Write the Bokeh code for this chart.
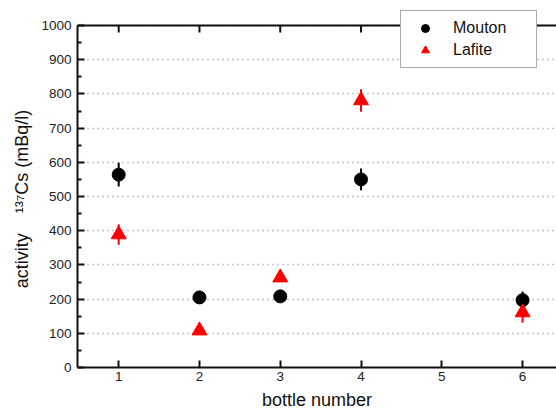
from bokeh.plotting import figure
from bokeh.models import (FixedTicker, Legend, LegendItem, Range1d, Span)
from bokeh.embed import file_html
from bokeh.resources import INLINE

bottles = [1, 2, 3, 4, 6]
mouton = [564, 205, 208, 550, 197]
mouton_err = [35, 12, 14, 32, 25]
lafite = [389, 108, 263, 781, 161]
lafite_err = [30, 10, 12, 33, 30]
x_ticks = [1, 2, 3, 4, 5, 6]
y_ticks = list(range(0, 1001, 100))
y_minor = list(range(50, 1000, 100))

FONT = "Liberation Sans"
NB = "\u00a0"
Y_TOP = 1000          # value at the top border
TICK_LEN = 20         # inward tick length on the top border, in value units

# frame extends a bit above 1000 so that the legend can overlap the top border
p = figure(width=556, height=415, output_backend="svg", toolbar_location=None,
           x_range=Range1d(0.49, 6.42), y_range=Range1d(0, 1044),
           min_border_left=77, min_border_right=0, min_border_top=10, min_border_bottom=48)
p.outline_line_color = None
p.background_fill_color = "white"
p.border_fill_color = "white"

# horizontal dotted grid
p.xgrid.visible = False
p.ygrid.ticker = FixedTicker(ticks=y_ticks)
p.ygrid.grid_line_color = "#8a8aa0"
p.ygrid.grid_line_dash = "1 4"
p.ygrid.grid_line_width = 1.3

# axes
xa = p.xaxis[0]
xa.ticker = FixedTicker(ticks=x_ticks)
ya = p.yaxis[0]
ya.ticker = FixedTicker(ticks=y_ticks, minor_ticks=y_minor)
ya.bounds = (0, Y_TOP)
for ax in (xa, ya):
    ax.axis_line_width = 2
    ax.axis_line_color = "#111111"
    ax.major_tick_in = 7
    ax.major_tick_out = 0
    ax.major_tick_line_width = 2
    ax.major_tick_line_color = "#111111"
    ax.major_label_text_font = FONT
    ax.major_label_text_font_size = "13.5px"
    ax.major_label_text_color = "#222222"
    ax.axis_label_text_font = FONT
    ax.axis_label_text_font_size = "18px"
    ax.axis_label_text_font_style = "normal"
    ax.axis_label_text_color = "#111111"
xa.minor_tick_line_color = None
ya.minor_tick_in = 4
ya.minor_tick_out = 0
ya.minor_tick_line_width = 2
ya.minor_tick_line_color = "#111111"
xa.major_label_standoff = 4
ya.major_label_standoff = 6

xa.axis_label = "bottle number"
xa.axis_label_standoff = 6
ya.axis_label = "activity" + NB * 4 + "\u00b9\u00b3\u2077Cs (mBq/l)" + NB * 4
ya.axis_label_standoff = 6

# top border with inward ticks
p.add_layout(Span(location=Y_TOP, dimension="width", line_color="#111111", line_width=2))
p.segment(x0=x_ticks, x1=x_ticks, y0=[Y_TOP] * len(x_ticks),
          y1=[Y_TOP - TICK_LEN] * len(x_ticks), line_color="#111111", line_width=2)

# error bars
p.segment(x0=bottles, x1=bottles,
          y0=[v - e for v, e in zip(mouton, mouton_err)],
          y1=[v + e for v, e in zip(mouton, mouton_err)],
          line_color="black", line_width=2)
p.segment(x0=bottles, x1=bottles,
          y0=[v - e for v, e in zip(lafite, lafite_err)],
          y1=[v + e for v, e in zip(lafite, lafite_err)],
          line_color="red", line_width=2)

r_m = p.scatter(bottles, mouton, marker="circle", size=13, fill_color="black", line_color="black")
r_l = p.scatter(bottles, lafite, marker="triangle", size=15, fill_color="red", line_color="red")

legend = Legend(items=[LegendItem(label="Mouton", renderers=[r_m]),
                       LegendItem(label="Lafite", renderers=[r_l])],
                location=(323, 299))
legend.label_text_font = FONT
legend.label_text_font_size = "16px"
legend.label_text_color = "#111111"
legend.border_line_color = "#555555"
legend.border_line_width = 1.5
legend.background_fill_color = "white"
legend.background_fill_alpha = 1
legend.padding = 7
legend.spacing = 2
legend.glyph_width = 34
legend.glyph_height = 20
legend.label_standoff = 11
legend.label_width = 76
legend.margin = 0
p.add_layout(legend, "center")

open("out.html", "w").write(file_html(p, INLINE))
